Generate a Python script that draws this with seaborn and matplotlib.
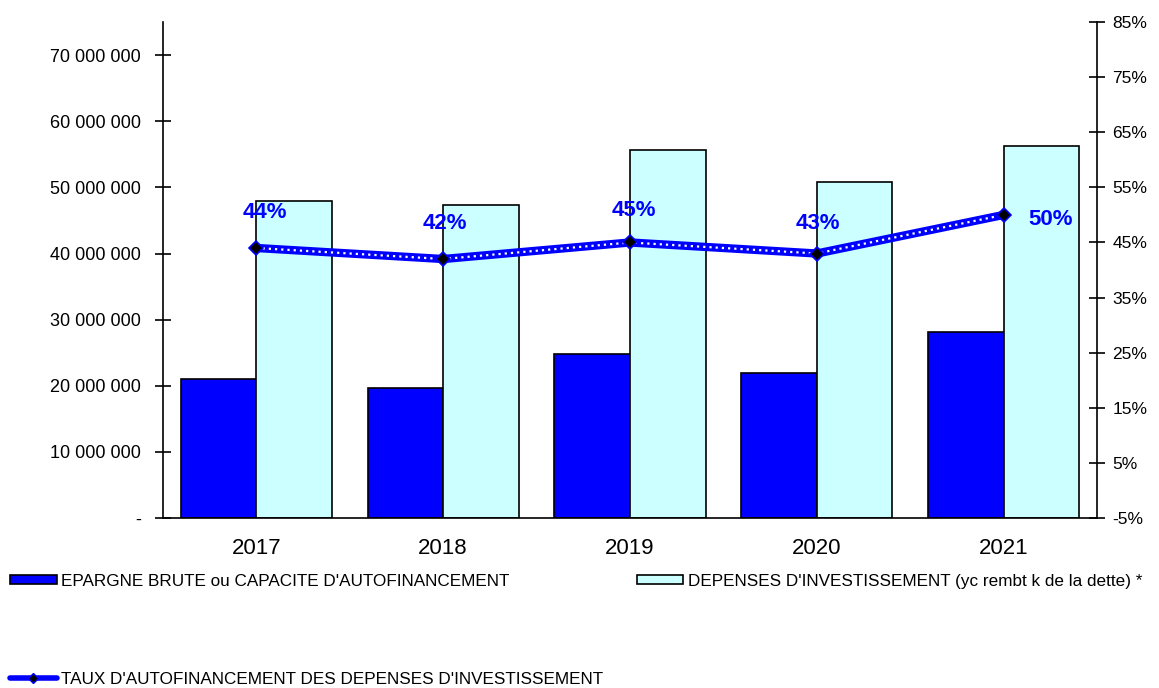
import pandas as pd
import numpy as np
import matplotlib
matplotlib.use("Agg")
import matplotlib.pyplot as plt
import seaborn as sns
from matplotlib.patches import Patch
from matplotlib.lines import Line2D

# donnees
annees = ["2017", "2018", "2019", "2020", "2021"]
epargne_brute = [21000000, 19700000, 24800000, 21900000, 28100000]
depenses_invest = [47900000, 47300000, 55700000, 50800000, 56200000]
taux = [44, 42, 45, 43, 50]
taux_labels = ["44%", "42%", "45%", "43%", "50%"]

lab_epargne = "EPARGNE BRUTE ou CAPACITE D'AUTOFINANCEMENT"
lab_depenses = "DEPENSES D'INVESTISSEMENT (yc rembt k de la dette) *"
lab_taux = "TAUX D'AUTOFINANCEMENT DES DEPENSES D'INVESTISSEMENT"

sns.set_style("white")
plt.rcParams['font.family'] = ['Liberation Sans', 'DejaVu Sans']
plt.rcParams['text.color'] = 'black'
plt.rcParams['xtick.color'] = 'black'
plt.rcParams['ytick.color'] = 'black'

df = pd.DataFrame({
    'Annee': annees * 2,
    'Montant': epargne_brute + depenses_invest,
    'Serie': [lab_epargne] * 5 + [lab_depenses] * 5,
})

fig = plt.figure(figsize=(11.59, 6.88), dpi=100)
ax = fig.add_axes([0.1406, 0.247, 0.8059, 0.721])

sns.barplot(data=df, x='Annee', y='Montant', hue='Serie',
            palette=['#0000FF', '#CCFFFF'], saturation=1, width=0.81, gap=0,
            edgecolor='black', linewidth=1.2, ax=ax, legend=False)

ax.set_xlim(-0.5, 4.5)
ax.set_ylim(0, 75000000)
ax.set_xlabel('')
ax.set_ylabel('')
yt = np.arange(0, 70000001, 10000000)
ax.set_yticks(yt)
ax.set_yticklabels(['-'] + [f"{int(v):,}".replace(',', ' ') for v in yt[1:]], fontsize=13)
ax.set_xticks(np.arange(-0.5, 5, 1), minor=True)
ax.set_xticks(range(5))
ax.set_xticklabels(annees, fontsize=16)
ax.tick_params(axis='x', which='major', length=0, pad=14)
ax.tick_params(axis='x', which='minor', direction='inout', length=14, width=1.2)
ax.tick_params(axis='y', direction='inout', length=12, width=1.2, pad=10)
for s in ['top', 'right']:
    ax.spines[s].set_visible(False)
for s in ['left', 'bottom']:
    ax.spines[s].set_linewidth(1.2)
    ax.spines[s].set_color('black')

# taux sur axe secondaire
ax2 = ax.twinx()
x = np.arange(5)
ax2.plot(x, taux, color='#0000FF', lw=6, solid_capstyle='butt', zorder=3)
ax2.plot(x, taux, color='white', lw=1.6, ls=(0, (1.0, 1.8)), zorder=4)
ax2.plot(x, taux, ls='none', marker='D', ms=7, mfc='black', mec='#0000FF', mew=1.2, zorder=5)
ax2.set_ylim(-5, 85)
ax2.set_yticks(np.arange(-5, 86, 10))
ax2.set_yticklabels([f"{v}%" for v in np.arange(-5, 86, 10)], fontsize=12.5)
ax2.tick_params(axis='y', direction='inout', length=12, width=1.2, pad=5)
for s in ['top', 'left', 'bottom']:
    ax2.spines[s].set_visible(False)
ax2.spines['right'].set_linewidth(1.2)
ax2.spines['right'].set_color('black')

offsets = [(6, 25.5), (1, 25.5), (3, 23), (1, 21.5), (34, -3)]
for i in range(5):
    ax2.annotate(taux_labels[i], (x[i], taux[i]), xytext=offsets[i],
                 textcoords='offset points', ha='center', va='center',
                 color='#0000FF', fontsize=16, fontweight='bold', zorder=6)

# legende
h_ep = Patch(facecolor='#0000FF', edgecolor='black', linewidth=1.2)
h_dep = Patch(facecolor='#CCFFFF', edgecolor='black', linewidth=1.2)
h_taux = Line2D([0], [0], color='#0000FF', lw=4, marker='D', ms=5, mfc='black', mec='#0000FF')
fig.legend([h_ep, h_taux, h_dep], [lab_epargne, lab_taux, lab_depenses],
           loc='upper left', bbox_to_anchor=(0.009, 0.166), ncol=2, frameon=False,
           fontsize=12.3, handlelength=2.7, handleheight=0.45, handletextpad=0.25,
           labelspacing=4.85, columnspacing=2.0, borderaxespad=0, borderpad=0)

fig.savefig('out.png', dpi=100)
